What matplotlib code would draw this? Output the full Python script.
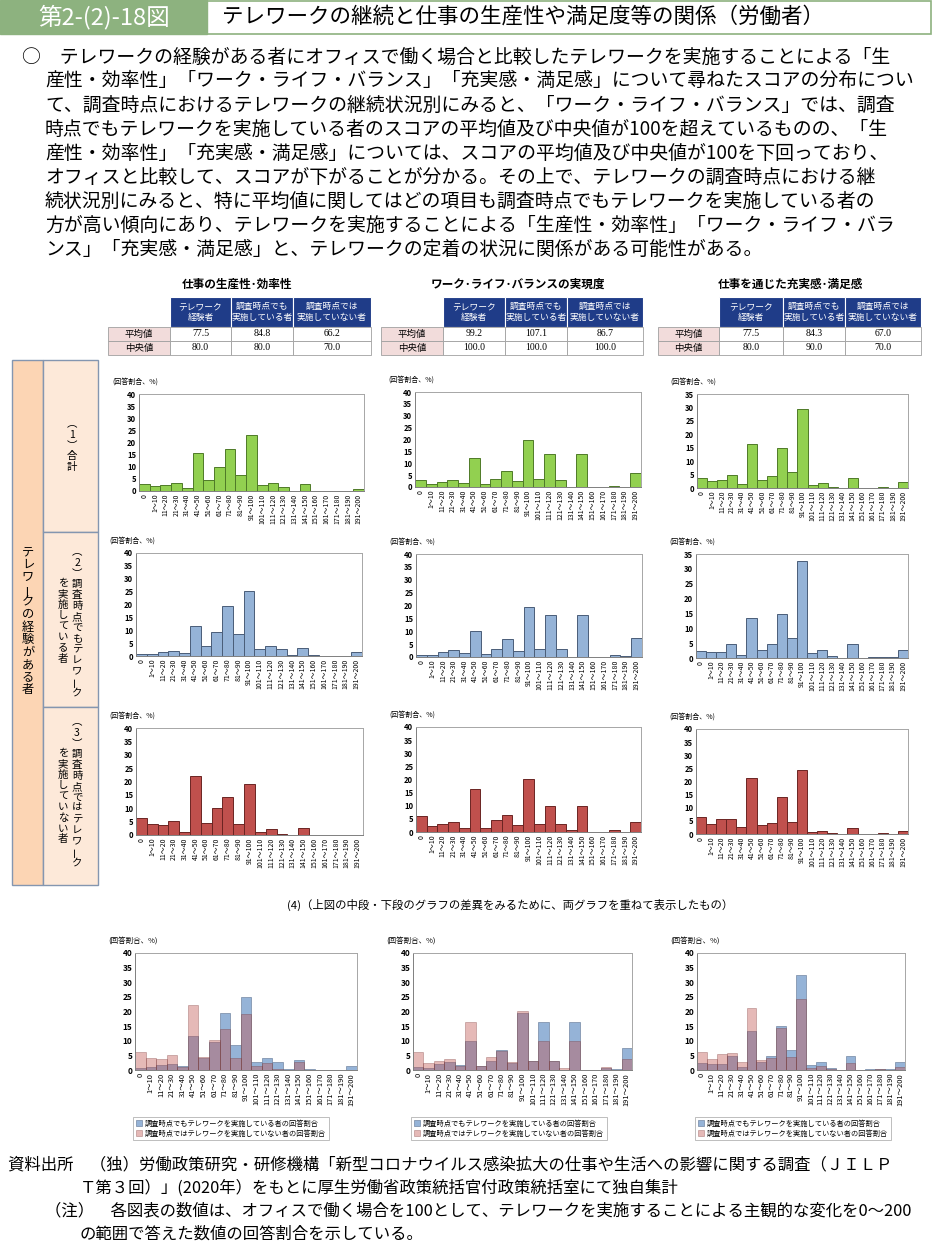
#!/usr/bin/env python
"""テレワークの継続と仕事の生産性や満足度等の関係（労働者）"""
import numpy as np
import matplotlib
matplotlib.use("Agg")
import matplotlib.pyplot as plt
from matplotlib.patches import Rectangle

plt.rcParams['font.family'] = ['Noto Sans CJK JP', 'DejaVu Sans']

W, H = 933, 1241

categories = ["0", "1～10", "11～20", "21～30", "31～40", "41～50", "51～60", "61～70",
              "71～80", "81～90", "91～100", "101～110", "111～120", "121～130", "131～140",
              "141～150", "151～160", "161～170", "171～180", "181～190", "191～200"]

# (1) 合計
prod_total = [2.9, 2.1, 2.5, 3.3, 1.2, 15.8, 4.4, 9.8, 17.2, 6.6, 23.0, 2.5, 3.3, 1.8, 0.0, 2.9, 0.1, 0.0, 0.0, 0.0, 0.8]
wlb_total = [2.9, 1.3, 2.2, 2.9, 1.7, 12.4, 1.3, 3.3, 6.7, 2.6, 19.7, 3.2, 13.8, 2.9, 0.1, 13.8, 0.0, 0.0, 0.6, 0.0, 6.0]
sat_total = [3.7, 2.5, 3.1, 5.0, 1.6, 16.3, 3.1, 4.4, 14.8, 5.9, 29.4, 1.2, 2.0, 0.5, 0.0, 3.7, 0.0, 0.1, 0.2, 0.1, 2.1]
# (2) 調査時点でもテレワークを実施している者
prod_cont = [0.7, 0.9, 1.7, 2.1, 1.3, 11.5, 4.0, 9.5, 19.4, 8.5, 25.1, 2.9, 4.0, 2.6, 0.2, 3.3, 0.2, 0.0, 0.0, 0.0, 1.4]
wlb_cont = [0.9, 0.8, 1.9, 2.6, 1.6, 10.0, 1.2, 3.1, 7.0, 2.3, 19.4, 3.1, 16.3, 3.1, 0.0, 16.3, 0.1, 0.1, 0.8, 0.4, 7.5]
sat_cont = [2.4, 2.0, 2.0, 4.7, 1.0, 13.5, 2.8, 4.7, 14.9, 6.7, 32.6, 1.7, 2.7, 0.6, 0.0, 4.7, 0.0, 0.2, 0.3, 0.2, 2.8]
# (3) 調査時点ではテレワークを実施していない者
prod_stop = [6.2, 4.0, 3.6, 5.1, 1.0, 22.1, 4.5, 10.1, 14.1, 4.0, 19.2, 1.2, 2.4, 0.3, 0.0, 2.7, 0.0, 0.0, 0.0, 0.0, 0.0]
wlb_stop = [6.2, 2.4, 3.0, 3.8, 1.5, 16.5, 1.5, 4.5, 6.6, 2.8, 20.2, 3.2, 10.0, 3.2, 0.6, 10.0, 0.0, 0.0, 0.9, 0.0, 3.9]
sat_stop = [6.3, 3.7, 5.6, 5.7, 2.7, 21.2, 3.3, 4.1, 14.2, 4.4, 24.4, 0.6, 1.3, 0.3, 0.0, 2.4, 0.0, 0.0, 0.2, 0.0, 1.0]

# tables above the charts
panel_titles = ["仕事の生産性･効率性", "ワーク･ライフ･バランスの実現度", "仕事を通じた充実感･満足感"]
table_cols = ["テレワーク\n経験者", "調査時点でも\n実施している者", "調査時点では\n実施していない者"]
table_rows = ["平均値", "中央値"]
prod_stats = [[77.5, 84.8, 66.2], [80.0, 80.0, 70.0]]
wlb_stats = [[99.2, 107.1, 86.7], [100.0, 100.0, 100.0]]
sat_stats = [[77.5, 84.3, 67.0], [80.0, 90.0, 70.0]]

title_num = "第2-(2)-18図"
title = "テレワークの継続と仕事の生産性や満足度等の関係（労働者）"
body_lines = [
    "○　テレワークの経験がある者にオフィスで働く場合と比較したテレワークを実施することによる「生",
    "産性・効率性」「ワーク・ライフ・バランス」「充実感・満足感」について尋ねたスコアの分布につい",
    "て、調査時点におけるテレワークの継続状況別にみると、「ワーク・ライフ・バランス」では、調査",
    "時点でもテレワークを実施している者のスコアの平均値及び中央値が100を超えているものの、「生",
    "産性・効率性」「充実感・満足感」については、スコアの平均値及び中央値が100を下回っており、",
    "オフィスと比較して、スコアが下がることが分かる。その上で、テレワークの調査時点における継",
    "続状況別にみると、特に平均値に関してはどの項目も調査時点でもテレワークを実施している者の",
    "方が高い傾向にあり、テレワークを実施することによる「生産性・効率性」「ワーク・ライフ・バラ",
    "ンス」「充実感・満足感」と、テレワークの定着の状況に関係がある可能性がある。",
]
overlay_caption = "(4)（上図の中段・下段のグラフの差異をみるために、両グラフを重ねて表示したもの）"
legend_labels = ["調査時点でもテレワークを実施している者の回答割合",
                 "調査時点ではテレワークを実施していない者の回答割合"]
ylabel = "(回答割合、%)"
footer_lines = [
    (8, "資料出所　（独）労働政策研究・研修機構「新型コロナウイルス感染拡大の仕事や生活への影響に関する調査（ＪＩＬＰ"),
    (80, "Ｔ第３回）」(2020年）をもとに厚生労働省政策統括官付政策統括室にて独自集計"),
    (45, "（注）　各図表の数値は、オフィスで働く場合を100として、テレワークを実施することによる主観的な変化を0～200"),
    (80, "の範囲で答えた数値の回答割合を示している。"),
]

green_bar, green_edge = "#92d050", "#4f7a28"
blue_bar, blue_edge = "#95b3d7", "#4a5d78"
red_bar, red_edge = "#c0504d", "#6b2422"
navy = "#1f3c88"
header_green = "#8db27f"

fig = plt.figure(figsize=(W / 100, H / 100), dpi=100)
bg = fig.add_axes([0, 0, 1, 1])
bg.set_xlim(0, W)
bg.set_ylim(H, 0)
bg.axis("off")


def px_axes(left, top, right, bottom):
    return fig.add_axes([left / W, 1 - bottom / H, (right - left) / W, (bottom - top) / H])


def vtext(x, y0, s, step, fs):
    # tategaki: one character under the other
    for i, ch in enumerate(s):
        rot = 90 if ch == "ー" else 0
        bg.text(x, y0 + i * step, ch, ha="center", va="center", fontsize=fs, rotation=rot)


def style_axes(ax, ymax, fs_tick, fs_cat):
    n = len(categories)
    ax.set_xlim(-0.5, n - 0.5)
    ax.set_ylim(0, ymax)
    ax.set_yticks(np.arange(0, ymax + 1, 5))
    ax.set_xticks(np.arange(n))
    ax.set_xticklabels(categories, rotation=90, fontsize=fs_cat)
    for lab in ax.get_yticklabels():
        lab.set_fontsize(fs_tick)
        lab.set_fontweight("bold")
    for sp in ax.spines.values():
        sp.set_color("#a6a6a6")
        sp.set_linewidth(0.7)
    ax.spines["left"].set_color("#7f7f7f")
    ax.spines["bottom"].set_color("#7f7f7f")
    ax.tick_params(axis="x", length=0, pad=2)
    ax.tick_params(axis="y", length=0, pad=2)
    ax.annotate(ylabel, xy=(0, 1), xycoords="axes fraction", xytext=(-19, 9),
                textcoords="offset points", fontsize=fs_cat, ha="left", va="center")


def hist(box, values, color, edge, ymax):
    ax = px_axes(*box)
    x = np.arange(len(categories))
    ax.bar(x, values, width=1.0, color=color, edgecolor=edge, linewidth=0.7)
    style_axes(ax, ymax, 5.5, 5)
    return ax


def overlay(box, cont, stop):
    ax = px_axes(*box)
    x = np.arange(len(categories))
    ax.bar(x, cont, width=1.0, color=blue_bar, edgecolor="#7387a3", linewidth=0.5, label=legend_labels[0])
    ax.bar(x, stop, width=1.0, color=red_bar, alpha=0.4, edgecolor=red_edge, linewidth=0.5, label=legend_labels[1])
    style_axes(ax, 40, 6, 5.4)
    leg = ax.legend(loc="upper left", bbox_to_anchor=(-0.01, -0.40), fontsize=5.2, frameon=True,
                    fancybox=False, edgecolor="#a0a0a0", handlelength=0.9, handleheight=0.9,
                    borderpad=0.4, labelspacing=0.25, handletextpad=0.4, borderaxespad=0)
    leg.get_frame().set_linewidth(0.6)
    return ax


# header
bg.add_patch(Rectangle((0, 0), 207, 34, color=header_green))
bg.add_patch(Rectangle((207, 0.8), 724, 33, fill=False, edgecolor=header_green, lw=1.2))
bg.text(104, 17, title_num, color="white", fontsize=17, ha="center", va="center")
bg.text(222, 17, title, fontsize=15.5, ha="left", va="center")

# body text
for i, line in enumerate(body_lines):
    bg.text(22 if i == 0 else 45, 57 + i * 24, line, fontsize=13.6, va="center")

# tables
table_edges = [[108, 170, 231, 293, 371], [381, 443, 505, 567, 643], [658, 719, 783, 845, 921]]
title_centers = [237, 518, 790]
for name, cx, edges, stats in zip(panel_titles, title_centers, table_edges, [prod_stats, wlb_stats, sat_stats]):
    bg.text(cx, 284, name, fontsize=8.4, fontweight="bold", ha="center", va="center")
    for j in range(3):
        bg.add_patch(Rectangle((edges[j + 1], 297), edges[j + 2] - edges[j + 1], 30,
                               facecolor=navy, edgecolor="white", lw=0.8))
        bg.text((edges[j + 1] + edges[j + 2]) / 2, 312, table_cols[j], color="white",
                fontsize=6.3, ha="center", va="center", linespacing=1.35)
    for i, (rname, vals) in enumerate(zip(table_rows, stats)):
        y0 = 327 + i * 14
        bg.add_patch(Rectangle((edges[0], y0), edges[1] - edges[0], 14,
                               facecolor="#f2dcdb", edgecolor="#a0a0a0", lw=0.6))
        bg.text((edges[0] + edges[1]) / 2, y0 + 7, rname, fontsize=6.8, ha="center", va="center")
        for j in range(3):
            bg.add_patch(Rectangle((edges[j + 1], y0), edges[j + 2] - edges[j + 1], 14,
                                   facecolor="white", edgecolor="#a0a0a0", lw=0.6))
            bg.text((edges[j + 1] + edges[j + 2]) / 2, y0 + 7, f"{vals[j]:.1f}", fontsize=7,
                    family="Liberation Serif", ha="center", va="center")

# row labels on the left
bg.add_patch(Rectangle((12, 360), 31, 525, facecolor="#fcd5b4", edgecolor="#8496b0", lw=1))
for top, bottom in [(360, 532), (532, 707), (707, 885)]:
    bg.add_patch(Rectangle((43, top), 55, bottom - top, facecolor="#fde9d9", edgecolor="#8496b0", lw=1))
vtext(28, 552, "テレワークの経験がある者", 12.5, 8.8)
vtext(72, 424, "︵1︶合計", 10.8, 7.5)
vtext(77, 552, "︵2︶調査時点でもテレワーク", 10.8, 7.5)
vtext(63, 583, "を実施している者", 10.8, 7.5)
vtext(77, 722, "︵3︶調査時点ではテレワーク", 10.8, 7.5)
vtext(63, 753, "を実施していない者", 10.8, 7.5)

# histograms
hist((139, 394, 364, 491), prod_total, green_bar, green_edge, 40)
hist((415, 392, 641, 487), wlb_total, green_bar, green_edge, 40)
hist((697, 394, 908, 488), sat_total, green_bar, green_edge, 35)
hist((136, 553, 362, 656), prod_cont, blue_bar, blue_edge, 40)
hist((416, 554, 642, 657), wlb_cont, blue_bar, blue_edge, 40)
hist((696, 554, 908, 658), sat_cont, blue_bar, blue_edge, 35)
hist((136, 728, 363, 835), prod_stop, red_bar, red_edge, 40)
hist((416, 727, 641, 832), wlb_stop, red_bar, red_edge, 40)
hist((696, 729, 908, 834), sat_stop, red_bar, red_edge, 40)

bg.text(510, 905, overlay_caption, fontsize=8.2, ha="center", va="center")
overlay((135, 953, 357, 1070), prod_cont, prod_stop)
overlay((413, 953, 632, 1070), wlb_cont, wlb_stop)
overlay((697, 953, 905, 1070), sat_cont, sat_stop)

# footer
for i, (x, line) in enumerate(footer_lines):
    bg.text(x, 1165 + i * 23, line, fontsize=11.8, va="center")

fig.savefig("out.png", dpi=100)
